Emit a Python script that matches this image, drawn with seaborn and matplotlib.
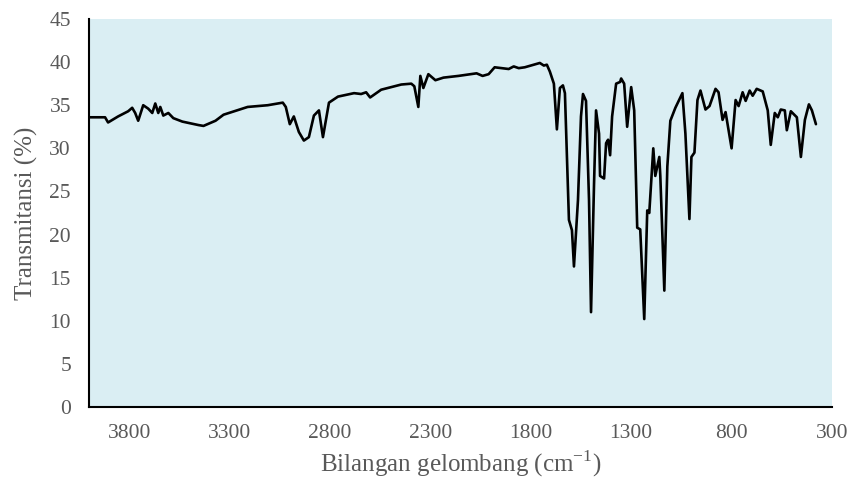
import numpy as np
import pandas as pd
import matplotlib
matplotlib.use('Agg')
import matplotlib.pyplot as plt
import seaborn as sns

# wavenumber (cm-1) and transmittance (%)
wavenumber = [4000, 3920, 3905, 3855, 3805, 3785, 3770, 3755, 3730, 3705,
              3685, 3670, 3655, 3645, 3630, 3605, 3580, 3535, 3455, 3430,
              3370, 3330, 3210, 3160, 3110, 3035, 3020, 3000, 2980, 2955,
              2930, 2905, 2880, 2855, 2835, 2805, 2760, 2680, 2645, 2620,
              2600, 2545, 2445, 2395, 2380, 2360, 2350, 2335, 2310, 2275,
              2235, 2160, 2070, 2040, 2010, 1980, 1910, 1885, 1860, 1830,
              1785, 1755, 1735, 1720, 1705, 1685, 1670, 1655, 1640, 1630,
              1610, 1595, 1585, 1565, 1550, 1540, 1525, 1510, 1500, 1485,
              1475, 1460, 1455, 1435, 1425, 1415, 1405, 1395, 1375, 1355,
              1350, 1335, 1320, 1300, 1285, 1270, 1255, 1235, 1220, 1210,
              1190, 1180, 1160, 1155, 1135, 1120, 1105, 1080, 1045, 1030,
              1010, 1000, 985, 970, 955, 930, 910, 880, 865, 845,
              830, 800, 780, 765, 745, 730, 710, 695, 675, 645,
              620, 605, 585, 570, 555, 535, 525, 505, 475, 455,
              435, 415, 400, 380]
transmittance = [33.6, 33.6, 33.0, 33.7, 34.3, 34.7, 34.1, 33.2, 35.0, 34.6,
                 34.1, 35.2, 34.1, 34.8, 33.8, 34.1, 33.5, 33.1, 32.7, 32.6,
                 33.2, 33.9, 34.8, 34.9, 35.0, 35.3, 34.8, 32.8, 33.7, 31.9,
                 30.9, 31.3, 33.8, 34.4, 31.3, 35.3, 36.0, 36.4, 36.3, 36.5,
                 35.9, 36.8, 37.4, 37.5, 37.2, 34.8, 38.4, 37.0, 38.6, 37.9,
                 38.2, 38.4, 38.7, 38.4, 38.6, 39.4, 39.2, 39.5, 39.3, 39.4,
                 39.7, 39.9, 39.6, 39.7, 38.9, 37.5, 32.2, 37.0, 37.3, 36.4,
                 21.7, 20.5, 16.3, 24.0, 33.7, 36.3, 35.5, 24.0, 11.0, 25.9,
                 34.4, 31.7, 26.8, 26.5, 30.6, 31.0, 29.2, 33.7, 37.5, 37.7,
                 38.1, 37.5, 32.5, 37.1, 34.4, 20.8, 20.6, 10.2, 22.8, 22.5,
                 30.0, 26.8, 29.0, 26.8, 13.5, 27.9, 33.2, 34.7, 36.4, 31.7,
                 21.8, 29.0, 29.5, 35.6, 36.7, 34.5, 34.9, 36.9, 36.5, 33.3,
                 34.2, 30.0, 35.6, 34.9, 36.5, 35.5, 36.7, 36.1, 36.9, 36.6,
                 34.4, 30.4, 34.1, 33.6, 34.5, 34.4, 32.1, 34.3, 33.6, 29.0,
                 33.3, 35.1, 34.4, 32.8]

x_ticks = [3800, 3300, 2800, 2300, 1800, 1300, 800, 300]
y_ticks = list(range(0, 50, 5))

sns.set_style('white')
plt.rcParams['font.family'] = ['Liberation Serif', 'DejaVu Serif']
plt.rcParams['mathtext.fontset'] = 'custom'
plt.rcParams['mathtext.rm'] = 'Liberation Serif'

df = pd.DataFrame({'wn': wavenumber, 'T': transmittance})

fig = plt.figure(figsize=(8.52, 4.87), dpi=100)
ax = fig.add_axes([89 / 852, 80 / 487, 743 / 852, 388 / 487])
ax.set_facecolor('#DAEEF3')

sns.lineplot(data=df, x='wn', y='T', color='black', linewidth=1.9, ax=ax)
for ln in ax.get_lines():
    ln.set_solid_joinstyle('round')

ax.set_xlim(4000, 300)
ax.set_ylim(0, 45)
ax.set_xticks(x_ticks)
ax.set_yticks(y_ticks)
ax.tick_params(length=0, labelsize=15.5, labelcolor='#595959')
ax.tick_params(axis='x', pad=12)
ax.tick_params(axis='y', pad=13)

for side in ['top', 'right']:
    ax.spines[side].set_visible(False)
for side in ['left', 'bottom']:
    ax.spines[side].set_color('black')
    ax.spines[side].set_linewidth(1.5)

ax.set_xlabel('Bilangan gelombang (cm$^{\\mathrm{-1}}$)', fontsize=18, color='#595959', labelpad=4)
ax.set_ylabel('Transmitansi (%)', fontsize=18, color='#595959', labelpad=8)

fig.savefig('out.png', dpi=100)
